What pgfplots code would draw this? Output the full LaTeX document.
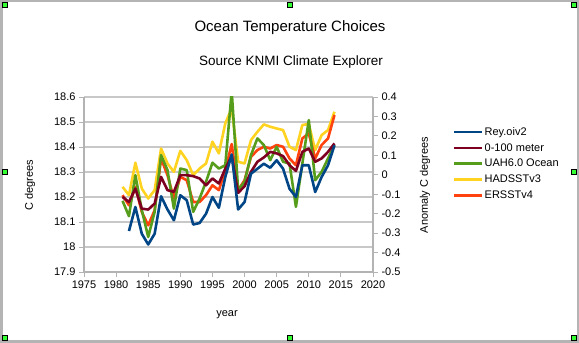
\documentclass[border=0pt]{standalone}
\usepackage{fontspec}
\setmainfont{Liberation Sans}
\usepackage{pgfplots}
\usepackage{pgfplotstable}
\pgfplotsset{compat=1.18}
\definecolor{cblue}{HTML}{004586}
\definecolor{cred}{HTML}{7E0021}
\definecolor{cgreen}{HTML}{579D1C}
\definecolor{cyellow}{HTML}{FFD320}
\definecolor{corange}{HTML}{FF420E}
\definecolor{axgray}{HTML}{B3B3B3}
\definecolor{gridgray}{HTML}{C8C8C8}
\definecolor{hgreen}{HTML}{33FF33}

\pgfplotstableread{
year rey
1982 18.064
1983 18.160
1984 18.053
1985 18.010
1986 18.053
1987 18.203
1988 18.150
1989 18.107
1990 18.207
1991 18.187
1992 18.090
1993 18.096
1994 18.133
1995 18.200
1996 18.157
1997 18.280
1998 18.370
1999 18.150
2000 18.180
2001 18.293
2002 18.313
2003 18.333
2004 18.317
2005 18.347
2006 18.313
2007 18.233
2008 18.200
2009 18.327
2010 18.327
2011 18.220
2012 18.280
2013 18.327
2014 18.407
}\rey

\pgfplotstableread{
year ohc uah had ers
1981 -0.114 -0.134 -0.062 -0.105
1982 -0.140 -0.213 -0.105 -0.157
1983 -0.071 -0.002  0.062 -0.062
1984 -0.174 -0.182 -0.071 -0.191
1985 -0.179 -0.320 -0.122 -0.260
1986 -0.148 -0.191 -0.079 -0.182
1987 -0.011  0.101  0.135  0.084
1988 -0.079  0.024  0.058 -0.002
1989 -0.088 -0.174  0.015 -0.122
1990 -0.002  0.032  0.123 -0.011
1991 -0.002  0.024  0.075 -0.028
1992 -0.007 -0.191 -0.002 -0.140
1993 -0.019 -0.122  0.032 -0.140
1994 -0.054 -0.036  0.058 -0.105
1995 -0.019  0.062  0.170 -0.054
1996 -0.045  0.032  0.110 -0.079
1997  0.032  0.049  0.264  0.024
1998  0.096  0.430  0.342  0.158
1999 -0.093 -0.079  0.067 -0.079
2000 -0.059 -0.036  0.058 -0.028
2001  0.015  0.101  0.178  0.092
2002  0.067  0.187  0.221  0.127
2003  0.089  0.153  0.259  0.144
2004  0.118  0.075  0.247  0.135
2005  0.110  0.144  0.238  0.153
2006  0.096  0.067  0.230  0.144
2007  0.049  0.058  0.144  0.084
2008  0.020 -0.165  0.127  0.049
2009  0.118  0.058  0.256  0.187
2010  0.135  0.281  0.261  0.213
2011  0.067 -0.028  0.127  0.084
2012  0.084  0.015  0.204  0.153
2013  0.118  0.084  0.230  0.187
2014  0.161  0.153  0.324  0.307
}\anom

\pgfplotsset{
  base/.style={
    scale only axis, width=289pt, height=175pt,
    at={(84pt,71pt)}, anchor=south west,
    xmin=1975, xmax=2020,
    tick label style={font=\fontsize{11}{13}\selectfont, black},
    /pgf/number format/assume math mode=true,
    /pgf/number format/1000 sep={},
    tick align=outside, major tick length=5pt,
    every tick/.style={axgray, line width=0.8pt},
    axis line style={axgray, line width=1.2pt},
  },
  ser/.style={line width=2.6pt, line join=round},
}

\begin{document}
\begin{tikzpicture}
\path (0,0) rectangle (579pt,343pt);
% outer frame
\draw[gridgray!90!black, line width=2.5pt] (1.25pt,1.25pt) rectangle (577.75pt,341.75pt);

% axis 1: left axis, grid, labels
\begin{axis}[base,
  ymin=17.9, ymax=18.6,
  ytick={17.9,18,18.1,18.2,18.3,18.4,18.5,18.6},
  yticklabels={17.9,18,18.1,18.2,18.3,18.4,18.5,18.6},
  xtick={1975,1980,...,2020},
  axis x line*=bottom, axis y line*=left,
  ymajorgrids, grid style={gridgray, line width=1.4pt},
]
\end{axis}

% axis 2: right anomaly axis
\begin{axis}[base,
  ymin=-0.5, ymax=0.4,
  ytick={-0.5,-0.4,-0.3,-0.2,-0.1,0,0.1,0.2,0.3,0.4},
  yticklabels={-0.5,-0.4,-0.3,-0.2,-0.1,0,0.1,0.2,0.3,0.4},
  axis y line*=right, axis x line=none,
  legend style={at={(1.266,0.845)}, anchor=north west, draw=none, fill=none,
    font=\fontsize{11}{13}\selectfont, row sep=4.6pt,
    nodes={inner sep=1pt}},
  legend cell align=left,
  legend image code/.code={\draw[#1] (0pt,0pt) -- (28pt,0pt);},
]
\addlegendimage{ser, cblue}
\addlegendentry{Rey.oiv2}
\addlegendimage{ser, cred}
\addlegendentry{0-100 meter}
\addlegendimage{ser, cgreen}
\addlegendentry{UAH6.0 Ocean}
\addlegendimage{ser, cyellow}
\addlegendentry{HADSSTv3}
\addlegendimage{ser, corange}
\addlegendentry{ERSSTv4}
\addplot[ser, cyellow, forget plot] table[x=year, y=had] {\anom};
\addplot[ser, corange, forget plot] table[x=year, y=ers] {\anom};
\addplot[ser, cgreen, forget plot] table[x=year, y=uah] {\anom};
\addplot[ser, cred, forget plot] table[x=year, y=ohc] {\anom};
\end{axis}

% axis 3: Rey.oiv2 on left scale, on top
\begin{axis}[base, ymin=17.9, ymax=18.6, hide axis]
\addplot[ser, cblue] table[x=year, y=rey] {\rey};
\end{axis}

% titles and labels
\node[font=\fontsize{15}{17}\selectfont] at (290pt,315pt) {Ocean Temperature Choices};
\node[font=\fontsize{13.5}{16}\selectfont] at (291pt,281pt) {Source KNMI Climate Explorer};
\node[font=\fontsize{11}{13}\selectfont, rotate=90] at (30pt,158pt) {C degrees};
\node[font=\fontsize{11}{13}\selectfont, rotate=90] at (425pt,158pt) {Anomaly C degrees};
\node[font=\fontsize{11}{13}\selectfont] at (227pt,28pt) {year};

% selection handles
\foreach \p in {(5pt,338pt),(290pt,338pt),(574pt,338pt),(5pt,171pt),(574pt,171pt),(5pt,5pt),(290pt,5pt),(574pt,5pt)}
  \draw[black, fill=hgreen, line width=0.5pt] \p ++(-2.5pt,-2.5pt) rectangle ++(5pt,5pt);
\end{tikzpicture}
\end{document}
